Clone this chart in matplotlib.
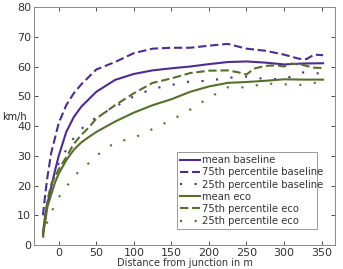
import matplotlib.pyplot as plt

# distance from junction (m)
x = [-21, -18, -15, -10, -5, 0, 10, 20, 30, 40, 50, 75, 100, 125, 150,
     175, 200, 225, 250, 275, 300, 325, 352]

mean_baseline = [4, 10, 14, 19.5, 25, 30, 38, 43, 46.5, 49, 51.5, 55.5, 57.5,
                 58.7, 59.4, 60, 60.8, 61.5, 61.7, 61.3, 60.7, 61, 61.1]
p25_baseline = [3, 9, 15, 19.5, 24, 27.5, 32, 36, 39, 41, 43, 46.5, 50,
                52.5, 53.8, 55, 55.2, 56.2, 56.6, 55.8, 55.8, 58, 57.6]
mean_eco = [3, 8, 13, 17, 21, 24, 28.5, 32, 34.5, 36.3, 38, 41.5, 44.5,
            47, 49, 51.5, 53.3, 54.5, 54.8, 55.2, 55.7, 55.6, 55.6]
p25_eco = [2.5, 5, 8, 11, 13.5, 16, 19.5, 23, 25.5, 27.5, 30, 34.5, 36,
           39, 42, 45.5, 49.5, 53, 53, 54.3, 54, 53.8, 55]

x75b = [-21, -18, -15, -10, -5, 0, 10, 20, 30, 40, 50, 75, 100, 125, 150,
        175, 200, 225, 250, 275, 300, 320, 330, 340, 352]
p75_baseline = [10, 17, 23, 31, 36, 41, 47, 51, 54, 56.5, 59, 61.5, 64.5,
                66, 66.3, 66.3, 67, 67.6, 66, 65.3, 64, 62.6, 62.5, 64, 63.8]

x75e = [-21, -18, -15, -10, -5, 0, 10, 20, 30, 40, 50, 75, 100, 125, 150,
        175, 200, 225, 240, 250, 260, 275, 290, 300, 310, 325, 340, 352]
p75_eco = [4, 9, 15, 20.5, 23, 25.5, 29.5, 34, 37, 39.5, 42.5, 47, 51, 54.5,
           56, 57.8, 58.6, 58.7, 58, 57.3, 59.3, 60.2, 60.4, 60, 61, 60.5,
           59.6, 59.5]

purple = '#4d2b91'
green = '#55702a'

fig = plt.figure(figsize=(3.43, 2.69), dpi=100)
ax = fig.add_axes([0.099, 0.089, 0.878, 0.885])

ax.plot(x, mean_baseline, color=purple, lw=1.5, label='mean baseline')
ax.plot(x75b, p75_baseline, color=purple, lw=1.5, dashes=(4, 1.8),
        label='75th percentile baseline')
ax.plot(x, p25_baseline, color=purple, lw=1.5, linestyle=(0, (1, 6)),
        label='25th percentile baseline')
ax.plot(x, mean_eco, color=green, lw=1.5, label='mean eco')
ax.plot(x75e, p75_eco, color=green, lw=1.5, dashes=(4, 1.8),
        label='75th percentile eco')
ax.plot(x, p25_eco, color=green, lw=1.5, linestyle=(0, (1, 6)),
        label='25th percentile eco')

ax.set_xlim(-33, 368)
ax.set_ylim(0, 80)
ax.set_xticks(range(0, 351, 50))
ax.set_yticks(range(0, 81, 10))
ax.tick_params(direction='in', top=True, right=True, labelsize=8,
               colors='#333333', length=3, width=0.6, pad=2)
for s in ax.spines.values():
    s.set_color('#888888')
    s.set_linewidth(0.7)

ax.set_xlabel('Distance from junction in m', fontsize=7, color='#333333',
              labelpad=0)
ax.set_ylabel('km/h', fontsize=7, color='#222222', rotation=0,
              ha='left', va='center')
ax.yaxis.set_label_coords(-0.106, 0.54)

leg = ax.legend(loc='lower left', bbox_to_anchor=(0.475, 0.067, 0.465, 0.307),
                mode='expand', fontsize=7.2, handlelength=2.0,
                handletextpad=0.2, borderpad=0.3, labelspacing=0.22,
                fancybox=False, framealpha=1, borderaxespad=0)
leg.get_frame().set_edgecolor('#999999')
leg.get_frame().set_linewidth(0.7)
for t in leg.get_texts():
    t.set_color('#333333')

fig.savefig('out.png', dpi=100)
